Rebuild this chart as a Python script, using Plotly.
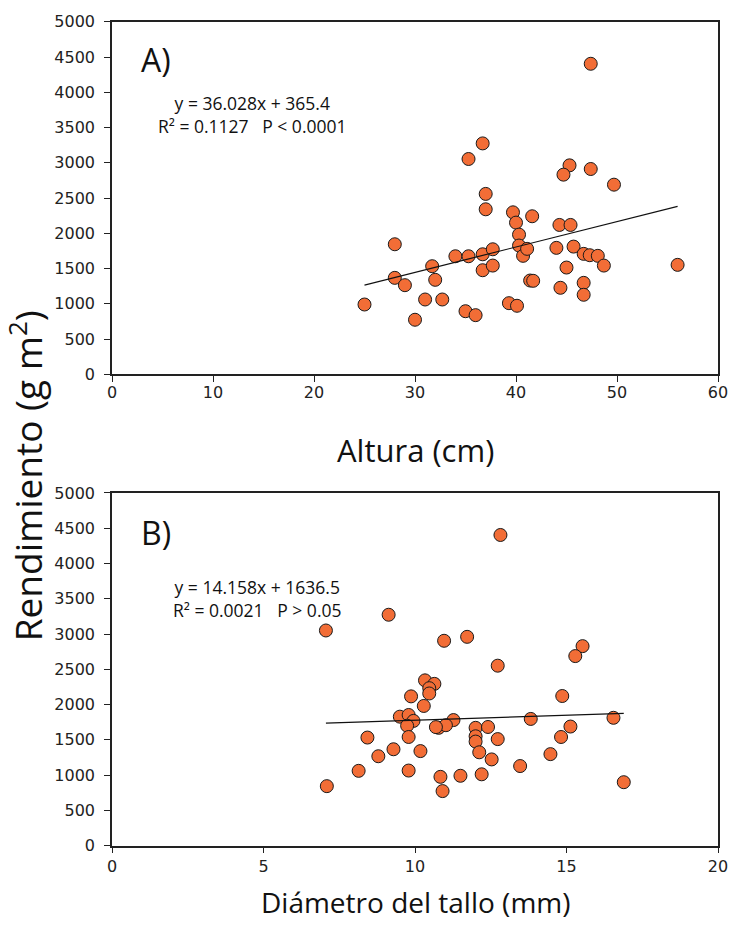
import plotly.graph_objects as go

# Panel A: plant height (cm) vs. yield (g m-2)
altura = [36.7, 35.3, 37.0, 37.0, 39.7, 40.0, 40.3, 40.3, 40.7, 28.0,
          28.0, 29.0, 31.7, 32.0, 34.0, 35.3, 36.7, 37.7, 36.7, 37.7,
          25.0, 30.0, 31.0, 32.7, 35.0, 36.0, 39.3, 40.1, 41.4, 45.3,
          44.7, 47.4, 49.7, 41.6, 44.3, 45.4, 41.1, 44.0, 45.7, 46.7,
          47.3, 48.1, 48.7, 45.0, 56.0, 41.7, 44.4, 46.7, 46.7, 47.4]
rend_a = [3275, 3054, 2559, 2341, 2298, 2152, 1982, 1827, 1681, 1845,
          1369, 1265, 1534, 1341, 1675, 1675, 1703, 1774, 1477, 1543,
          991, 775, 1062, 1062, 896, 840, 1010, 973, 1331, 2964,
          2832, 2912, 2690, 2242, 2119, 2119, 1780, 1794, 1812, 1709,
          1690, 1681, 1543, 1515, 1553, 1327, 1228, 1298, 1129, 4404]

# Panel B: stem diameter (mm) vs. yield (g m-2)
diametro = [12.82, 9.13, 7.06, 10.96, 11.72, 15.53, 15.29, 12.73, 10.33, 10.64,
            10.47, 10.47, 9.87, 14.86, 10.29, 9.50, 9.79, 9.95, 9.74, 11.27,
            13.82, 16.55, 10.78, 11.02, 12.00, 12.41, 15.13, 8.43, 9.79, 12.00,
            12.00, 12.73, 14.82, 9.29, 10.18, 12.12, 8.79, 14.47, 12.53, 13.47,
            8.14, 9.79, 10.84, 11.50, 12.20, 10.91, 7.09, 16.89, 10.69]
rend_b = [4404, 3273, 3050, 2904, 2960, 2828, 2687, 2551, 2343, 2293,
          2232, 2157, 2116, 2121, 1980, 1828, 1852, 1768, 1700, 1780,
          1796, 1812, 1670, 1707, 1670, 1682, 1688, 1532, 1540, 1550,
          1475, 1510, 1540, 1366, 1340, 1323, 1267, 1297, 1222, 1128,
          1060, 1064, 975, 990, 1011, 773, 843, 899, 1680]

# Linear fits reported for each panel
fit_a = (36.028, 365.4)
fit_b = (14.158, 1636.5)
eq_a = ["y = 36.028x + 365.4", "R² = 0.1127   P < 0.0001"]
eq_b = ["y = 14.158x + 1636.5", "R² = 0.0021   P > 0.05"]

xticks_a = [0, 10, 20, 30, 40, 50, 60]
xticks_b = [0, 5, 10, 15, 20]
yticks = [0, 500, 1000, 1500, 2000, 2500, 3000, 3500, 4000, 4500, 5000]

ORANGE = "#F26D36"
TICK_FONT = dict(family="DejaVu Sans", size=16, color="#222")
TITLE_FONT = "Open Sans"
H = 933

fig = go.Figure()


def add_panel(x, y, fit, xaxis, yaxis):
    fig.add_trace(go.Scatter(
        x=x, y=y, mode="markers", xaxis=xaxis, yaxis=yaxis,
        marker=dict(size=13, color=ORANGE, line=dict(color="#1a1a1a", width=1)),
        showlegend=False, hoverinfo="skip"))
    x0, x1 = min(x), max(x)
    m, b = fit
    fig.add_trace(go.Scatter(
        x=[x0, x1], y=[m * x0 + b, m * x1 + b], mode="lines",
        xaxis=xaxis, yaxis=yaxis, line=dict(color="#111", width=1.2),
        showlegend=False, hoverinfo="skip"))


add_panel(altura, rend_a, fit_a, "x", "y")
add_panel(diametro, rend_b, fit_b, "x2", "y2")

axis_common = dict(
    showline=True, linecolor="#222", linewidth=1.6, mirror=True,
    ticks="outside", ticklen=6, tickwidth=1.2, tickcolor="#222",
    showgrid=False, zeroline=False, tickfont=TICK_FONT,
)

fig.update_layout(
    width=732, height=H,
    margin=dict(l=112, r=14, t=0, b=0),
    paper_bgcolor="white", plot_bgcolor="white",
    xaxis=dict(domain=[0, 1], range=[0, 60], tickvals=xticks_a, anchor="y",
               ticklabelstandoff=-3, **axis_common),
    yaxis=dict(domain=[1 - 373 / H, 1 - 13 / H], range=[0, 5000],
               tickvals=yticks, anchor="x", ticklabelstandoff=6, **axis_common),
    xaxis2=dict(domain=[0, 1], range=[0, 20], tickvals=xticks_b, anchor="y2",
                ticklabelstandoff=-1, **axis_common),
    yaxis2=dict(domain=[1 - 854 / H, 1 - 494 / H], range=[0, 5000],
                tickvals=yticks, anchor="x2", ticklabelstandoff=6, **axis_common),
)

annotations = [
    # panel letters
    dict(text="A)", x=0.045, y=4460, xref="x domain", yref="y",
         xanchor="left", yanchor="middle", font=dict(size=32)),
    dict(text="B)", x=0.045, y=4440, xref="x2 domain", yref="y2",
         xanchor="left", yanchor="middle", font=dict(size=32)),
    # regression equations
    dict(text="<br>".join(eq_a), x=252, y=3680, xref="paper", yref="y",
         xanchor="center", yanchor="middle", align="center",
         font=dict(size=17.5)),
    dict(text="<br>".join(eq_b), x=257, y=3510, xref="paper", yref="y2",
         xanchor="center", yanchor="middle", align="center",
         font=dict(size=17.5)),
    # axis titles
    dict(text="Altura (cm)", x=0.5, y=450, xref="x domain", yref="paper",
         xanchor="center", yanchor="middle", font=dict(size=31)),
    dict(text="Diámetro del tallo (mm)", x=0.5, y=912, xref="x2 domain",
         yref="paper", xanchor="center", yanchor="middle", font=dict(size=28)),
    dict(text="Rendimiento (g m<sup>2</sup>)", x=26, y=477, xref="paper",
         yref="paper", textangle=-90, xanchor="center", yanchor="middle",
         font=dict(size=37)),
]

# positions given in pixels are converted to paper fractions
plot_w = 732 - 112 - 14
for a in annotations:
    if a["xref"] == "paper":
        a["x"] = (a["x"] - 112) / plot_w
    if a["yref"] == "paper":
        a["y"] = 1 - a["y"] / H
    a["showarrow"] = False
    a.setdefault("font", {})
    a["font"].setdefault("family", TITLE_FONT)
    a["font"]["color"] = "#111"
fig.update_layout(annotations=annotations)

fig.write_html("out.html")
